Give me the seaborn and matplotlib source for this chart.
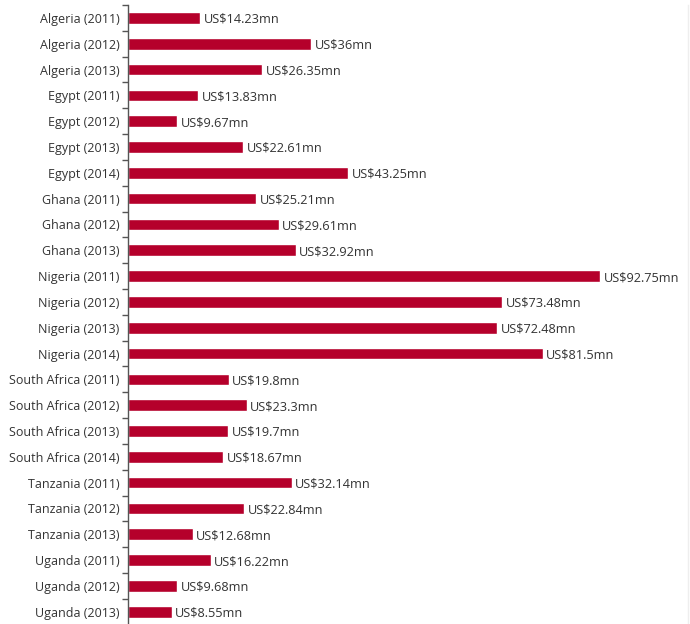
import matplotlib
matplotlib.use("Agg")
import matplotlib.pyplot as plt
import seaborn as sns
import pandas as pd
import numpy as np
from matplotlib.ticker import FixedLocator

categories = [
    "Algeria (2011)", "Algeria (2012)", "Algeria (2013)",
    "Egypt (2011)", "Egypt (2012)", "Egypt (2013)", "Egypt (2014)",
    "Ghana (2011)", "Ghana (2012)", "Ghana (2013)",
    "Nigeria (2011)", "Nigeria (2012)", "Nigeria (2013)", "Nigeria (2014)",
    "South Africa (2011)", "South Africa (2012)", "South Africa (2013)", "South Africa (2014)",
    "Tanzania (2011)", "Tanzania (2012)", "Tanzania (2013)",
    "Uganda (2011)", "Uganda (2012)", "Uganda (2013)",
]
values = [
    14.23, 36, 26.35,
    13.83, 9.67, 22.61, 43.25,
    25.21, 29.61, 32.92,
    92.75, 73.48, 72.48, 81.5,
    19.8, 23.3, 19.7, 18.67,
    32.14, 22.84, 12.68,
    16.22, 9.68, 8.55,
]

df = pd.DataFrame({"category": categories, "value": values})

sns.set_theme(style="white")
plt.rcParams["font.family"] = ["Open Sans", "DejaVu Sans"]

fig = plt.figure(figsize=(6.9, 6.24), dpi=100)
ax = fig.add_axes([128 / 690, -0.001, (688 - 128) / 690, 1 - 5 / 624 + 0.001])

bar_color = "#B5002B"
sns.barplot(data=df, x="value", y="category", orient="h", color=bar_color,
            width=0.45, saturation=1, ax=ax)

ax.set_xlim(0, 560 / 5.09)
ax.set_ylim(len(categories) - 0.5, -0.5)
ax.set_xlabel("")
ax.set_ylabel("")
ax.set_xticks([])

for s in ["top", "bottom"]:
    ax.spines[s].set_visible(False)
ax.spines["right"].set_color("#eeeeee")
ax.spines["right"].set_linewidth(1.0)
ax.spines["left"].set_color("#555555")
ax.spines["left"].set_linewidth(1.0)

ax.tick_params(axis="y", which="major", length=0, pad=6, labelsize=9.0, labelcolor="#333333")
for lbl in ax.get_yticklabels():
    lbl.set_verticalalignment("center_baseline")
ax.yaxis.set_minor_locator(FixedLocator(np.arange(-0.5, len(categories), 1.0)))
ax.tick_params(axis="y", which="minor", length=4, width=1.0, color="#555555", left=True)

for i, v in enumerate(values):
    ax.annotate(f"US${v:g}mn", xy=(v, i), xytext=(2.5, 0), textcoords="offset points",
                va="center_baseline", ha="left", fontsize=9.2, color="#333333")

fig.savefig("out.png", dpi=100, facecolor="white")
